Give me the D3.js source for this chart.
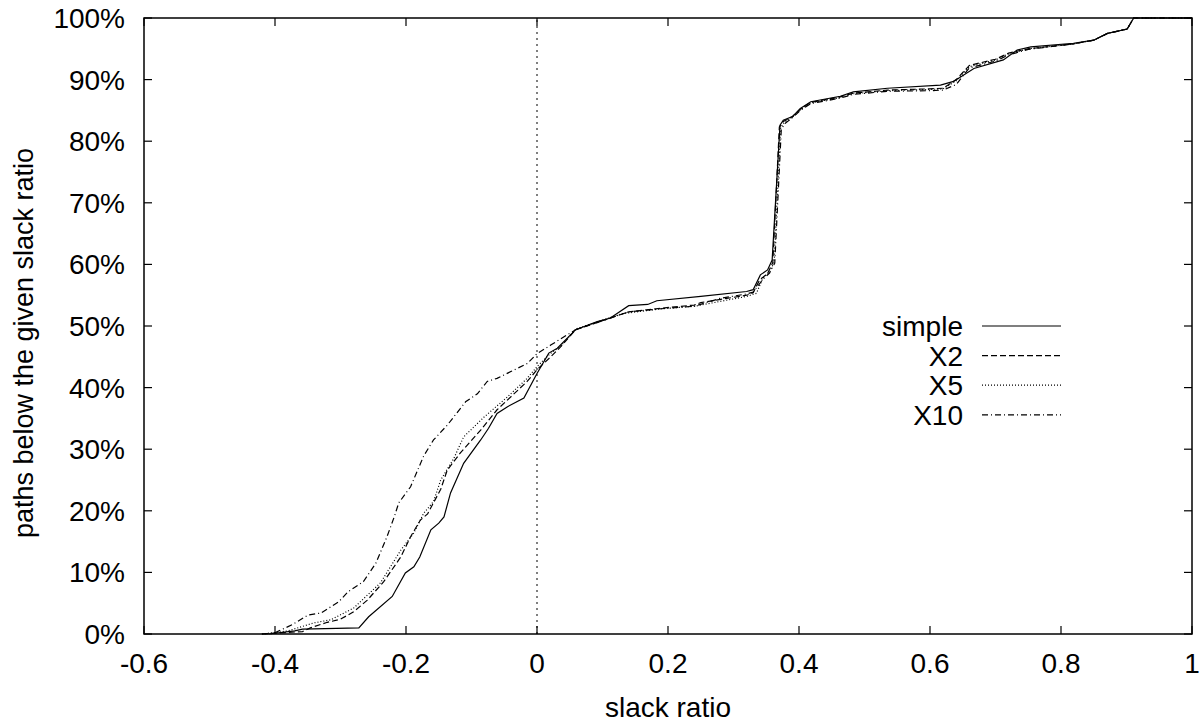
<!DOCTYPE html>
<html>
<head>
<meta charset="utf-8">
<script src="https://cdn.jsdelivr.net/npm/d3@7"></script>
<style>
  body { margin: 0; background: #fff; }
  text { font-family: "Liberation Sans", Arial, sans-serif; fill: #000; }
</style>
</head>
<body>
<div id="chart"></div>
<script>
// series: [slack ratio, % of paths]
const simple = [[-0.41,0],[-0.37,0.5],[-0.358,0.8],[-0.272,1.0],[-0.257,2.8],[-0.221,6.1],[-0.201,9.9],[-0.188,10.9],[-0.179,12.5],[-0.162,16.9],[-0.150,18.0],[-0.142,19.0],[-0.132,22.9],[-0.112,27.7],[-0.086,31.5],[-0.074,33.4],[-0.061,35.8],[-0.045,36.9],[-0.020,38.3],[0,42.3],[0.018,45.6],[0.031,46.4],[0.059,49.4],[0.092,50.7],[0.112,51.3],[0.140,53.3],[0.169,53.5],[0.183,54.1],[0.250,54.8],[0.32,55.6],[0.330,55.9],[0.341,58.3],[0.352,59.1],[0.359,60.7],[0.371,82.6],[0.376,83.4],[0.390,84.0],[0.402,85.3],[0.418,86.4],[0.463,87.3],[0.483,88.0],[0.535,88.6],[0.616,89.1],[0.636,89.7],[0.667,91.8],[0.712,93.2],[0.733,94.8],[0.754,95.3],[0.819,95.9],[0.850,96.4],[0.871,97.5],[0.901,98.2],[0.911,100],[1,100]];
const x2 = [[-0.42,0],[-0.358,0.4],[-0.346,1.0],[-0.320,1.9],[-0.300,2.4],[-0.280,3.6],[-0.259,5.5],[-0.234,8.5],[-0.208,12.5],[-0.193,15.8],[-0.178,18.5],[-0.167,19.5],[-0.147,23.5],[-0.137,26.6],[-0.117,29.4],[-0.086,33.1],[-0.061,36.4],[-0.036,38.9],[-0.015,41.0],[0,42.9],[0.021,45.0],[0.036,46.6],[0.059,49.4],[0.09,50.5],[0.14,52.3],[0.19,52.9],[0.24,53.4],[0.25,53.8],[0.32,55.0],[0.33,55.4],[0.34,57.5],[0.352,58.5],[0.36,60.3],[0.37,82.3],[0.376,83.2],[0.39,84.0],[0.402,85.2],[0.418,86.3],[0.463,87.2],[0.483,87.8],[0.535,88.3],[0.60,88.5],[0.62,88.6],[0.64,90.0],[0.66,92.3],[0.70,93.3],[0.72,94.3],[0.75,95.0],[0.819,95.8],[0.85,96.4],[0.871,97.5],[0.901,98.2],[0.911,100],[1,100]];
const x5 = [[-0.42,0],[-0.38,0.5],[-0.341,1.8],[-0.315,2.3],[-0.280,4.2],[-0.239,8.3],[-0.208,13.6],[-0.188,16.4],[-0.173,19.6],[-0.158,21.5],[-0.147,25.0],[-0.127,28.5],[-0.112,32.0],[-0.081,35.2],[-0.045,38.5],[-0.015,41.5],[0,43.4],[0.02,45.5],[0.036,46.7],[0.059,49.5],[0.09,50.6],[0.13,52.0],[0.19,52.8],[0.24,53.2],[0.28,54.0],[0.32,54.8],[0.335,55.3],[0.345,57.8],[0.355,58.8],[0.362,60.3],[0.372,82.2],[0.378,83.1],[0.39,83.9],[0.402,85.1],[0.418,86.2],[0.463,87.1],[0.483,87.7],[0.535,88.2],[0.60,88.4],[0.62,88.5],[0.64,89.8],[0.66,92.1],[0.70,93.2],[0.72,94.2],[0.75,95.0],[0.819,95.8],[0.85,96.4],[0.871,97.5],[0.901,98.2],[0.911,100],[1,100]];
const x10 = [[-0.42,0],[-0.402,0.1],[-0.374,1.5],[-0.349,3.1],[-0.330,3.4],[-0.303,5.2],[-0.288,6.9],[-0.265,8.5],[-0.246,11.5],[-0.229,15.8],[-0.218,19.0],[-0.211,21.3],[-0.193,23.9],[-0.173,28.9],[-0.158,31.5],[-0.137,33.9],[-0.109,37.7],[-0.091,39.0],[-0.076,41.0],[-0.061,41.5],[-0.040,42.6],[-0.015,43.9],[0,45.5],[0.021,46.9],[0.045,48.5],[0.059,49.4],[0.09,50.5],[0.14,52.3],[0.19,52.8],[0.24,53.2],[0.28,54.5],[0.32,55.2],[0.33,55.5],[0.345,57.6],[0.355,58.6],[0.363,60.2],[0.373,82.0],[0.38,83.0],[0.39,83.8],[0.402,85.0],[0.418,86.1],[0.463,87.0],[0.483,87.6],[0.535,88.1],[0.60,88.2],[0.62,88.3],[0.64,89.2],[0.66,91.9],[0.70,93.0],[0.72,94.0],[0.75,94.9],[0.819,95.8],[0.85,96.4],[0.871,97.5],[0.901,98.2],[0.911,100],[1,100]];

const seriesNames = ['simple', 'X2', 'X5', 'X10'];
const seriesData = [simple, x2, x5, x10];
const dashes = [null, '6,3', '1,2', '6,3,1,3'];

const xTicks = [-0.6, -0.4, -0.2, 0, 0.2, 0.4, 0.6, 0.8, 1];
const xTickLabels = ['-0.6', '-0.4', '-0.2', '0', '0.2', '0.4', '0.6', '0.8', '1'];
const yTicks = [0, 10, 20, 30, 40, 50, 60, 70, 80, 90, 100];

const width = 1202, height = 725;
const margin = { left: 144, right: 10, top: 18, bottom: 91 };

const svg = d3.select('#chart').append('svg')
    .attr('width', width)
    .attr('height', height);

const x = d3.scaleLinear().domain([-0.6, 1]).range([margin.left, width - margin.right]);
const y = d3.scaleLinear().domain([0, 100]).range([height - margin.bottom, margin.top]);

const fontSize = '28px';

// zero line
svg.append('line')
    .attr('x1', x(0)).attr('x2', x(0))
    .attr('y1', y(0)).attr('y2', y(100))
    .attr('stroke', '#000')
    .attr('stroke-width', 1)
    .attr('stroke-dasharray', '2,4');

// ticks on all sides, inward
const tickLen = 8;
const tickG = svg.append('g').attr('stroke', '#000').attr('stroke-width', 1.2);
xTicks.forEach(t => {
    tickG.append('line').attr('x1', x(t)).attr('x2', x(t)).attr('y1', y(0)).attr('y2', y(0) - tickLen);
    tickG.append('line').attr('x1', x(t)).attr('x2', x(t)).attr('y1', y(100)).attr('y2', y(100) + tickLen);
});
yTicks.forEach(t => {
    tickG.append('line').attr('x1', x(-0.6)).attr('x2', x(-0.6) + tickLen).attr('y1', y(t)).attr('y2', y(t));
    tickG.append('line').attr('x1', x(1)).attr('x2', x(1) - tickLen).attr('y1', y(t)).attr('y2', y(t));
});

svg.append('g').selectAll('text')
    .data(xTicks)
    .enter().append('text')
    .attr('x', d => x(d))
    .attr('y', 673)
    .attr('text-anchor', 'middle')
    .style('font-size', fontSize)
    .text((d, i) => xTickLabels[i]);

svg.append('g').selectAll('text')
    .data(yTicks)
    .enter().append('text')
    .attr('x', 125)
    .attr('y', d => y(d) + 10)
    .attr('text-anchor', 'end')
    .style('font-size', fontSize)
    .text(d => d + '%');

// curves
const line = d3.line().x(d => x(d[0])).y(d => y(d[1]));
svg.append('g').selectAll('path')
    .data(seriesData)
    .enter().append('path')
    .attr('d', d => line(d))
    .attr('fill', 'none')
    .attr('stroke', '#000')
    .attr('stroke-width', 1.2)
    .attr('stroke-dasharray', (d, i) => dashes[i]);

// border
svg.append('rect')
    .attr('x', x(-0.6)).attr('y', y(100))
    .attr('width', x(1) - x(-0.6))
    .attr('height', y(0) - y(100))
    .attr('fill', 'none')
    .attr('stroke', '#000')
    .attr('stroke-width', 1.5);

// legend
const legend = svg.append('g');
seriesNames.forEach((name, i) => {
    const ly = 326 + i * 29.6;
    legend.append('text')
        .attr('x', 963).attr('y', ly + 10)
        .attr('text-anchor', 'end')
        .style('font-size', fontSize)
        .text(name);
    legend.append('line')
        .attr('x1', 982).attr('x2', 1061)
        .attr('y1', ly).attr('y2', ly)
        .attr('stroke', '#000')
        .attr('stroke-width', 1.2)
        .attr('stroke-dasharray', dashes[i]);
});

// axis titles
svg.append('text')
    .attr('x', 668).attr('y', 717)
    .attr('text-anchor', 'middle')
    .style('font-size', fontSize)
    .text('slack ratio');

svg.append('text')
    .attr('transform', 'translate(33,343) rotate(-90)')
    .attr('text-anchor', 'middle')
    .style('font-size', '27px')
    .text('paths below the given slack ratio');
</script>
</body>
</html>
